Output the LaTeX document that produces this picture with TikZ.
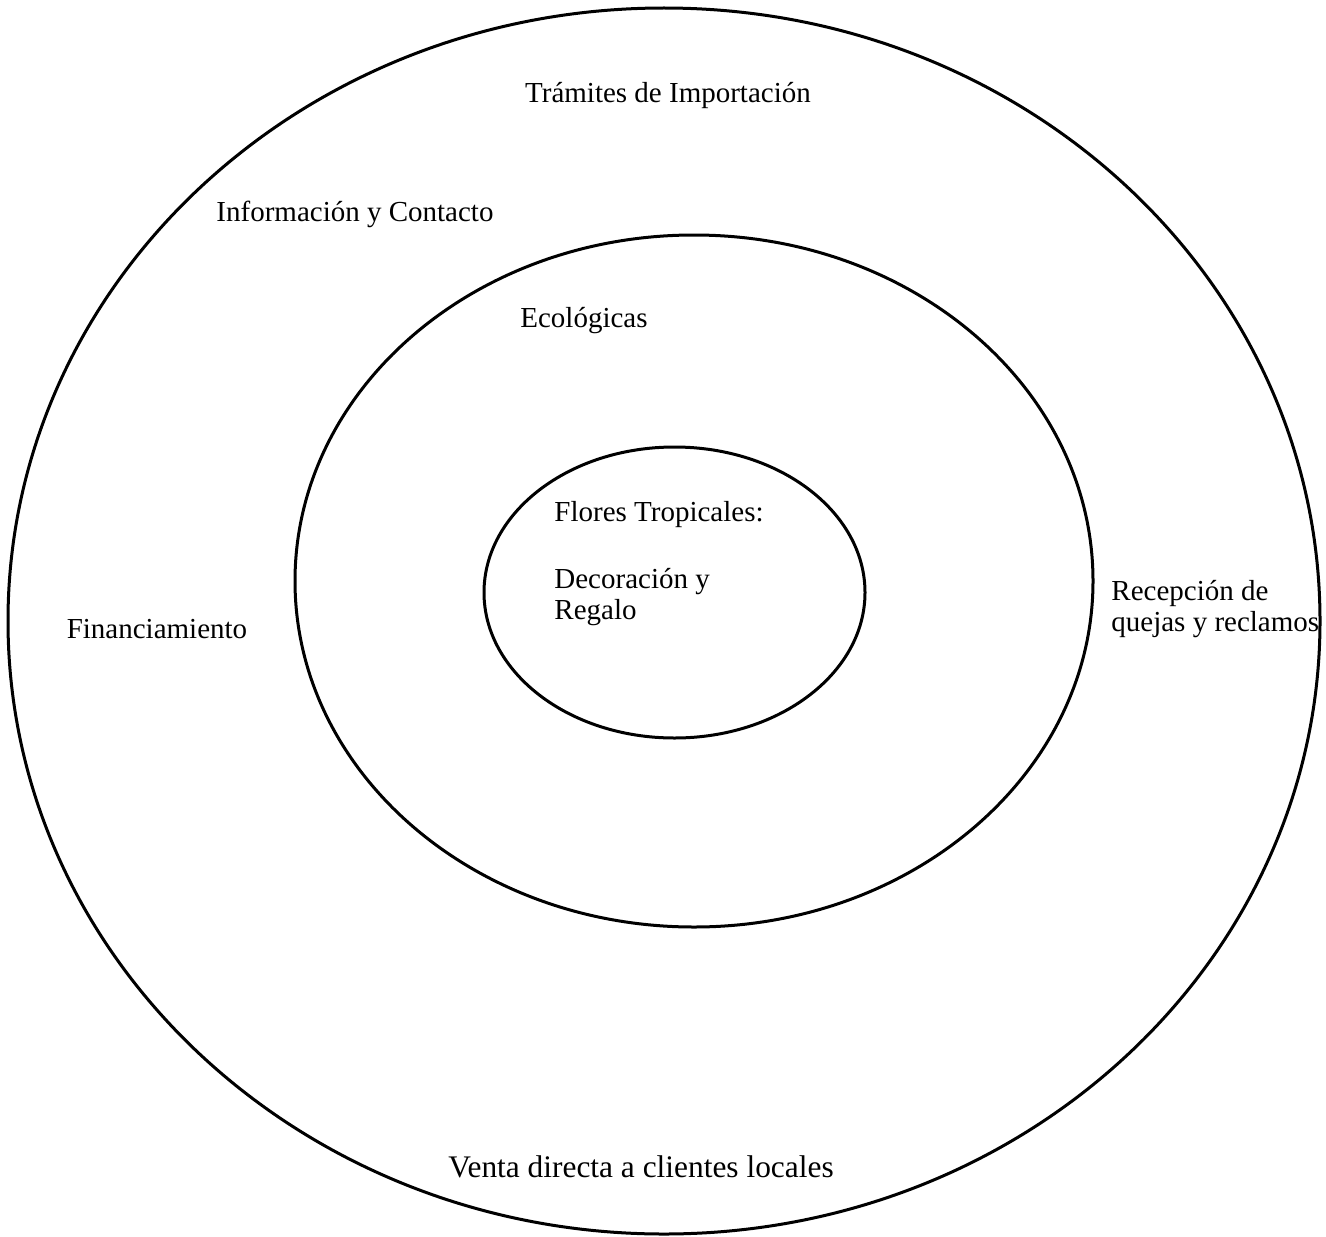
\documentclass[tikz,border=0pt]{standalone}
\usepackage{fontspec}
\setmainfont{Liberation Serif}
\usetikzlibrary{shapes.geometric}

\begin{document}
\begin{tikzpicture}[x=0.5pt,y=-0.5pt,
  ring/.style={draw,ellipse,line width=1.5pt,inner sep=0pt},
  lbl/.style={inner sep=0pt,font=\fontsize{14.5}{15.5}\selectfont}]
  \useasboundingbox (0,0) rectangle (1326,1236);
  % the three rings
  \node[ring,minimum width=656pt,minimum height=613pt] (outer) at (664,621) {};
  \node[ring,minimum width=399pt,minimum height=346pt] (middle) at (694,581) {};
  \node[ring,minimum width=190.5pt,minimum height=145.5pt] (inner) at (674.5,592.5) {};
  % outer ring
  \node[lbl] (tramites) at (668,96) {Trámites de Importación};
  \node[lbl] (info) at (355,214) {Información y Contacto};
  \node[lbl] (finan) at (157,629) {Financiamiento};
  \node[lbl,anchor=west,align=left] (quejas) at (1111,609) {Recepción de\\quejas y reclamos};
  \node[lbl,font=\fontsize{15.7}{17}\selectfont] (venta) at (641,1167) {Venta directa a clientes locales};
  % middle ring
  \node[lbl] (eco) at (584,321) {Ecológicas};
  % core
  \node[lbl,anchor=west] (flores) at (554,515) {Flores Tropicales:};
  \node[lbl,anchor=west,align=left] (deco) at (554,597) {Decoración y\\Regalo};
\end{tikzpicture}
\end{document}
